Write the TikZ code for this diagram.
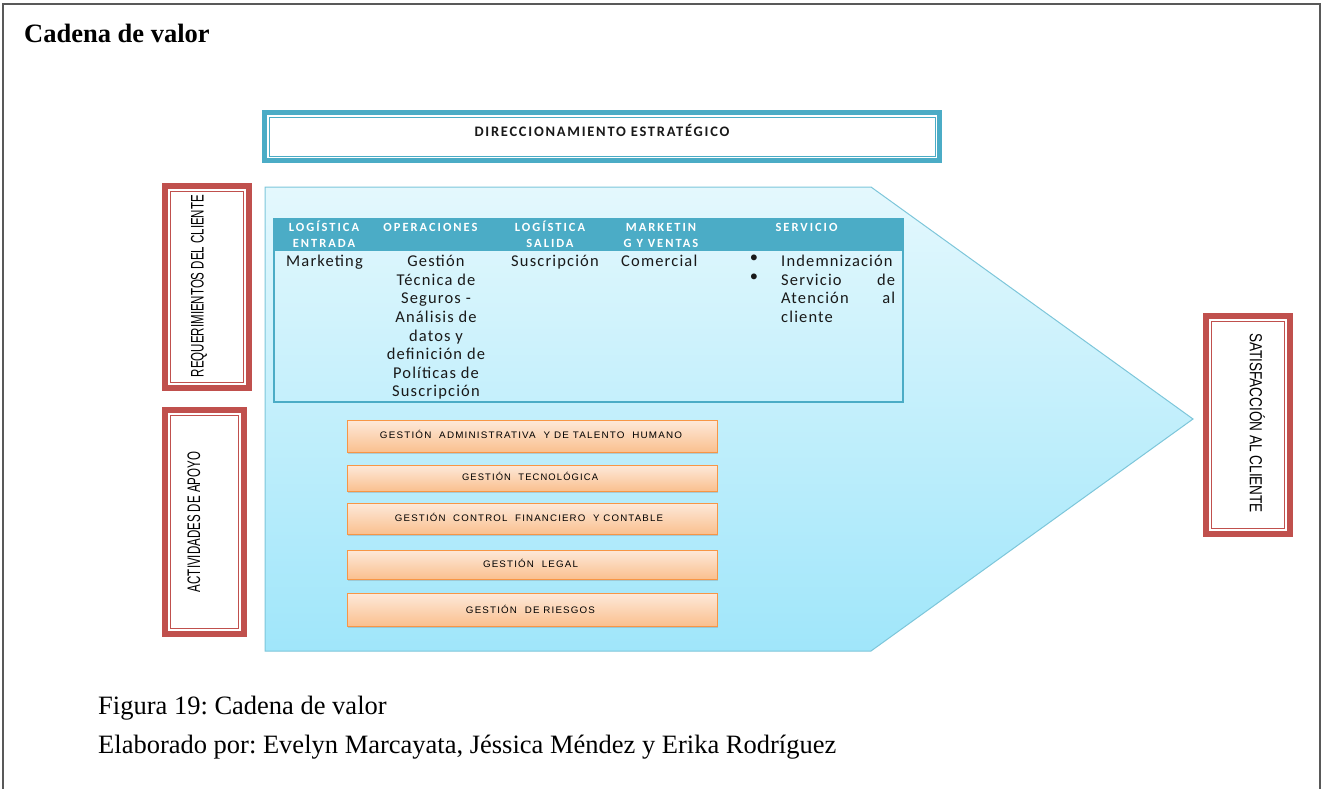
\documentclass[tikz,border=0pt]{standalone}
\usepackage{fontspec}
\setmainfont{Liberation Serif}
\newfontfamily\calibri{Carlito}
\newfontfamily\arialf{Liberation Sans}
\usetikzlibrary{shadows}
\frenchspacing
\definecolor{frameGray}{HTML}{595959}
\definecolor{accTeal}{HTML}{4BACC6}
\definecolor{accRed}{HTML}{C0504D}
\definecolor{pentTop}{HTML}{E4F8FD}
\definecolor{pentBot}{HTML}{A0E6FA}
\definecolor{pentEdge}{HTML}{7DC6DA}
\definecolor{orTop}{HTML}{FDE9DA}
\definecolor{orBot}{HTML}{FAC08F}
\definecolor{orEdge}{HTML}{F79646}
% squeeze a line of capitals into a given length and cap height
\newcommand{\squeezed}[3]{\resizebox{#1}{#2}{\raisebox{0pt}[.716em][0pt]{#3}}}
\begin{document}
\begin{tikzpicture}[x=1pt,y=-1pt,
  redframe/.style={draw=accRed, line width=6pt, fill=white, inner sep=0pt},
  tealframe/.style={draw=accTeal, line width=5pt, fill=white, inner sep=0pt},
  innerred/.style={draw=accRed, line width=0.9pt},
  innerteal/.style={draw=accTeal, line width=0.9pt},
  sidelabel/.style={font=\arialf\fontsize{18pt}{18pt}\selectfont, inner sep=0pt},
  headlabel/.style={font=\calibri\bfseries\fontsize{12.5pt}{16pt}\selectfont\addfontfeature{LetterSpace=16}, text=white, align=center, inner sep=0pt, anchor=north},
  bodytext/.style={font=\calibri\fontsize{16.5pt}{18.6pt}\selectfont\addfontfeature{LetterSpace=7}, inner sep=0pt, anchor=north, text=black!90},
  supportbox/.style={draw=orEdge, line width=0.9pt, top color=orTop, bottom color=orBot, minimum width=370pt, inner sep=0pt,
    drop shadow={shadow xshift=1pt, shadow yshift=-2pt, opacity=0.3}},
  supportlabel/.style={font=\arialf\fontsize{10pt}{10pt}\selectfont\addfontfeature{LetterSpace=12}, inner sep=0pt, text=black},
  captiontext/.style={font=\fontsize{26.5pt}{30pt}\selectfont, inner sep=0pt, anchor=base west}
]
\useasboundingbox (0,0) rectangle (1325,789);

% page frame (open at the bottom)
\draw[frameGray, line width=2pt] (3,789) -- (3,4) -- (1320,4) -- (1320,789);

\node[captiontext, font=\bfseries\fontsize{26.5pt}{30pt}\selectfont] (title) at (24,43) {Cadena de valor};

% strategic direction banner
\node[tealframe, minimum width=675pt, minimum height=48pt] (dir) at (602,136.5) {};
\draw[innerteal] (269,117) rectangle (935,156);
\node[font=\calibri\bfseries\fontsize{14.5pt}{15pt}\selectfont\addfontfeature{LetterSpace=12}, inner sep=0pt, text=black!90] (dirlabel) at (602,130) {DIRECCIONAMIENTO ESTRATÉGICO};

% value chain arrow
\shadedraw[top color=pentTop, bottom color=pentBot, draw=pentEdge, line width=1pt]
  (265,187) -- (871,187) -- (1193,419) -- (871,651) -- (265,651) -- cycle;

% primary activities table
\fill[accTeal] (274,219) rectangle (903,251);
\draw[accTeal, line width=1.2pt] (274,219) rectangle (903,402);

\node[headlabel] (h1) at (324,220.5) {LOGÍSTICA\\ENTRADA};
\node[headlabel] (h2) at (430.5,220.5) {\vphantom{Í}OPERACIONES};
\node[headlabel] (h3) at (550,220.5) {LOGÍSTICA\\SALIDA};
\node[headlabel] (h4) at (661,220.5) {\vphantom{Í}MARKETIN\\G Y VENTAS};
\node[headlabel] (h5) at (806.5,220.5) {\vphantom{Í}SERVICIO};

\node[bodytext] (b1) at (324.5,255) {Marketing};
\node[bodytext, align=center] (b2) at (436,255) {Gestión\\Técnica de\\Seguros -\\Análisis de\\datos y\\definición de\\Políticas de\\Suscripción};
\node[bodytext] (b3) at (555,255) {Suscripción};
\node[bodytext, anchor=north west] (b4) at (621,255) {Comercial};
\node[bodytext] (dot1) at (754,255) {\textbullet};
\node[bodytext] (dot2) at (754,273.6) {\textbullet};
\node[bodytext, anchor=north west, text width=114pt, align=left] (b5) at (781,255)
  {Indemnización\\Servicio\hfill de\\Atención\hfill al\\cliente};

% side frames
\node[redframe, minimum width=84pt, minimum height=202pt] (req) at (207,287) {};
\draw[innerred] (170.5,191.5) rectangle (243.5,382.5);
\node[sidelabel, rotate=90] (reqlabel) at (197,286) {\squeezed{182pt}{13pt}{REQUERIMIENTOS DEL CLIENTE}};

\node[redframe, minimum width=79pt, minimum height=224pt] (apo) at (204.5,522) {};
\draw[innerred] (170.5,415.5) rectangle (238.5,628.5);
\node[sidelabel, rotate=90] (apolabel) at (193.5,522) {\squeezed{140pt}{13pt}{ACTIVIDADES DE APOYO}};

\node[redframe, minimum width=84pt, minimum height=218pt] (sat) at (1248,425) {};
\draw[innerred] (1211.5,321.5) rectangle (1284.5,528.5);
\node[sidelabel, rotate=-90] (satlabel) at (1256,423) {\squeezed{180pt}{12.5pt}{SATISFACCIÓN AL CLIENTE}};

% support activities
\node[supportbox, minimum height=32pt] (s1) at (532,436) {};
\node[supportbox, minimum height=26pt] (s2) at (532,478) {};
\node[supportbox, minimum height=31pt] (s3) at (532,518.5) {};
\node[supportbox, minimum height=29pt] (s4) at (532,564.5) {};
\node[supportbox, minimum height=33pt] (s5) at (532,609.5) {};
\node[supportlabel] (t1) at (531,435) {\squeezed{302pt}{6.8pt}{GESTIÓN\ \ ADMINISTRATIVA\ \ Y DE TALENTO\ \ HUMANO}};
\node[supportlabel] (t2) at (530,477) {\squeezed{136pt}{6.8pt}{GESTIÓN\ \ TECNOLÓGICA}};
\node[supportlabel] (t3) at (529,518) {\squeezed{268pt}{6.8pt}{GESTIÓN\ \ CONTROL\ \ FINANCIERO\ \ Y CONTABLE}};
\node[supportlabel] (t4) at (530.5,564) {\squeezed{95pt}{6.8pt}{GESTIÓN\ \ LEGAL}};
\node[supportlabel] (t5) at (530.5,610) {\squeezed{129pt}{6.8pt}{GESTIÓN\ \ DE RIESGOS}};

% caption
\node[captiontext] (cap1) at (98,714) {Figura 19: Cadena de valor};
\node[captiontext] (cap2) at (98,753) {Elaborado por: Evelyn Marcayata, Jéssica Méndez y Erika Rodríguez};
\end{tikzpicture}
\end{document}
